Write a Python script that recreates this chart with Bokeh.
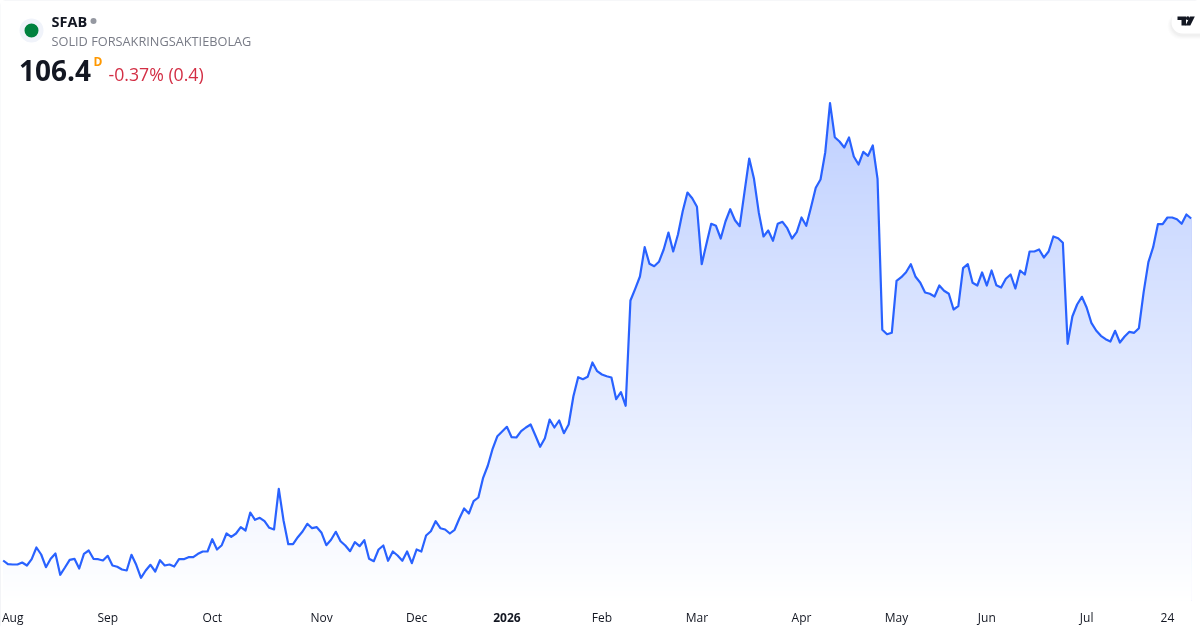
from bokeh.plotting import figure
from bokeh.models import Label, FixedTicker, BoxAnnotation
from bokeh.embed import file_html
from bokeh.resources import INLINE

# Share price per trading session
prices_2025_aug_oct = [72.2,71.83,71.8,71.8,72.0,71.7,72.33,73.5,72.8,71.53,72.37,72.9,70.77,71.5,72.27,72.37,71.4,72.87,73.2,72.37,72.33,72.2,72.67,71.7,71.57,71.3,71.2,72.77,71.77,70.47,71.2,71.77,71.1,72.23,71.7,71.8,71.6,72.33,72.33,72.53,72.53,72.87,73.1,73.1,74.33,73.3,73.73,74.9,74.57,74.9,75.53,75.2,77.0,76.27,76.47,76.13,75.47,75.3,79.37,76.2,73.83,73.83,74.53]
prices_2025_nov_dec = [75.1,75.87,75.43,75.53,74.97,73.73,74.27,75.07,74.13,73.7,73.13,74.03,73.63,74.23,72.37,72.13,73.3,73.7,72.17,73.1,72.7,72.17,73.1,71.93,73.3,73.1,74.7,75.13,76.13,75.43,75.3,74.9,75.27,76.4,77.4,76.9,78.13,78.5,80.47]
prices_2026_jan_feb = [81.7,83.37,84.63,85.1,85.57,84.53,84.5,85.13,85.5,85.8,84.7,83.57,84.43,86.3,85.5,86.2,84.93,85.8,88.63,90.53,90.33,90.57,92.0,91.13,90.8,90.63,90.5,88.33,89.03,87.67,98.2,99.37]
prices_2026_feb_may = [100.6,103.53,101.87,101.63,102.07,103.3,105.0,103.1,104.8,107.13,109.0,108.43,107.57,101.83,103.87,105.87,105.67,104.4,106.1,107.33,106.23,105.63,109.03,112.4,110.37,107.03,104.6,105.2,104.17,105.87,106.07,105.43,104.4,105.03,106.5,105.67,107.53,109.47,110.3,113.03,117.93,114.53,114.1,113.5,114.5,112.6,111.8,113.07,112.67,113.7,110.37,95.27,94.83,94.97,100.17,100.53]
prices_2026_may_jul = [101.03,101.83,100.57,99.97,99.0,98.87,98.6,99.7,99.17,98.87,97.3,97.63,101.43,101.83,99.97,99.7,101.0,99.7,101.2,99.73,99.5,100.37,100.8,99.4,101.2,100.8,103.1,103.1,103.3,102.5,103.1,104.6,104.43,103.97,93.87,96.6,97.8,98.57,97.5,95.97,95.2,94.67,94.33,94.1,95.17,94.0,94.6,95.07,94.97,95.43,99.03,102.03,103.53,105.83,105.83,106.5,106.5,106.33,105.87,106.8,106.4]
prices = prices_2025_aug_oct + prices_2025_nov_dec + prices_2026_jan_feb + prices_2026_feb_may + prices_2026_may_jul

tick_sessions = [2, 22, 44, 67, 87, 126, 146, 168, 188, 207, 228, 245]
tick_labels = ["Aug", "Sep", "Oct", "Nov", "Dec", "Feb", "Mar", "Apr", "May", "Jun", "Jul", "24"]
year_session = 106
year_label = "2026"

FONT = "Open Sans"
X0, XS = 2.67, 4.752      # px of first session, px per session
Y_TOP, YS = 128.2, 0.1    # price at canvas top, price per px
PANE_H = 600

def X(px): return (px - X0) / XS
def Y(py): return Y_TOP - py * YS

sessions = list(range(len(prices)))
p = figure(width=1200, height=630, output_backend="svg", toolbar_location=None,
           x_range=(X(0), X(1200)), y_range=(Y(630), Y_TOP),
           min_border_left=0, min_border_right=0, min_border_top=0, min_border_bottom=0,
           background_fill_color="white", border_fill_color="white", outline_line_color=None,
           y_axis_location=None)
p.grid.visible = False

# Vertical area gradient: opaque bands painted from the top down, then masked above the line
BANDS = 250
hi, lo = max(prices), Y(PANE_H)
lefts, rights, tops, bottoms, cols = [], [], [], [], []
for k in range(BANDS):
    t = k / BANDS
    a = 0.30 * (1 - t)
    cols.append("#%02x%02x%02x" % (round(255 - 214 * a), round(255 - 157 * a), 255))
    lefts.append(sessions[0]); rights.append(sessions[-1])
    tops.append(hi - (hi - lo) * t); bottoms.append(lo)
p.quad(left=lefts, right=rights, top=tops, bottom=bottoms, fill_color=cols, line_color=None)
mask_x = [sessions[0] - 1] + sessions + [sessions[-1] + 1]
mask_y = [prices[0]] + prices + [prices[-1]]
p.varea(x=mask_x, y1=mask_y, y2=[Y_TOP] * len(mask_y), fill_color="white")
p.line(sessions, prices, line_color="#2962FF", line_width=2.2, line_join="round")

ax = p.xaxis[0]
ax.fixed_location = Y(PANE_H)
ax.ticker = FixedTicker(ticks=tick_sessions)
ax.major_label_overrides = {s: l for s, l in zip(tick_sessions, tick_labels)}
ax.axis_line_color = None
ax.major_tick_line_color = None
ax.minor_tick_line_color = None
ax.major_tick_in = 0
ax.major_tick_out = 0
ax.minor_tick_in = 0
ax.minor_tick_out = 0
ax.major_label_standoff = 8
ax.major_label_text_font = FONT
ax.major_label_text_font_size = "12px"
ax.major_label_text_color = "#131722"

def lab(text, px, py, size, color, style="normal", align="left"):
    p.add_layout(Label(x=X(px), y=Y(py), text=text, text_font=FONT, text_font_size=f"{size}px",
                       text_color=color, text_font_style=style, text_align=align,
                       text_baseline="middle"))

p.add_layout(Label(x=year_session, y=Y(616.5), text=year_label, text_font=FONT, text_font_size="12px",
                   text_font_style="bold", text_color="#131722", text_align="center", text_baseline="middle"))

# Header
p.scatter([X(31)], [Y(30)], size=24, color="#f0f3fa", line_color=None)
p.scatter([X(31)], [Y(30)], size=14, color="#00813f", line_color=None)
p.scatter([X(93)], [Y(20.5)], size=6, color="#9598a1", line_color=None)
lab("SFAB", 51, 20.5, 14.5, "#131722", "bold")
lab("SOLID FORSAKRINGSAKTIEBOLAG", 51, 40.5, 12.75, "#787b86")
lab("106.4", 18.5, 70, 28, "#131722", "bold")
lab("D", 93, 61, 12, "#ff9800", "bold")
lab("-0.37% (0.4)", 108, 73.5, 17.7, "#d32f45")

# Logo pill
for grow, alpha in ((4, 0.01), (3, 0.012), (2, 0.015), (1, 0.02)):
    p.add_layout(BoxAnnotation(left=X(1171 - grow), right=X(1212), top=Y(12), bottom=Y(33 + grow + 2),
                               fill_color="#000000", fill_alpha=alpha, line_color=None, border_radius=14))
p.add_layout(BoxAnnotation(left=X(1171), right=X(1212), top=Y(10), bottom=Y(33), fill_color="white",
                           fill_alpha=1, line_color=None, border_radius=11))
glyph = [
    [(1177, 16), (1185.5, 16), (1185.5, 25), (1181, 25), (1181, 19.4), (1177, 19.4)],
    [(1189.5, 16), (1194.3, 16), (1189.8, 25), (1185, 25)],
]
p.patches([[X(a) for a, _ in g] for g in glyph], [[Y(b) for _, b in g] for g in glyph],
          color="#131722", line_color=None, level="overlay")
p.scatter([X(1187.3)], [Y(17.7)], size=3.8, color="#131722", line_color=None, level="overlay")

# Card border
p.styles = {"position": "fixed", "left": "0px", "top": "0px", "outline": "1px solid #e6e8ee",
            "outline-offset": "-1px", "border-radius": "6px"}

open("out.html", "w").write(file_html(p, INLINE))
